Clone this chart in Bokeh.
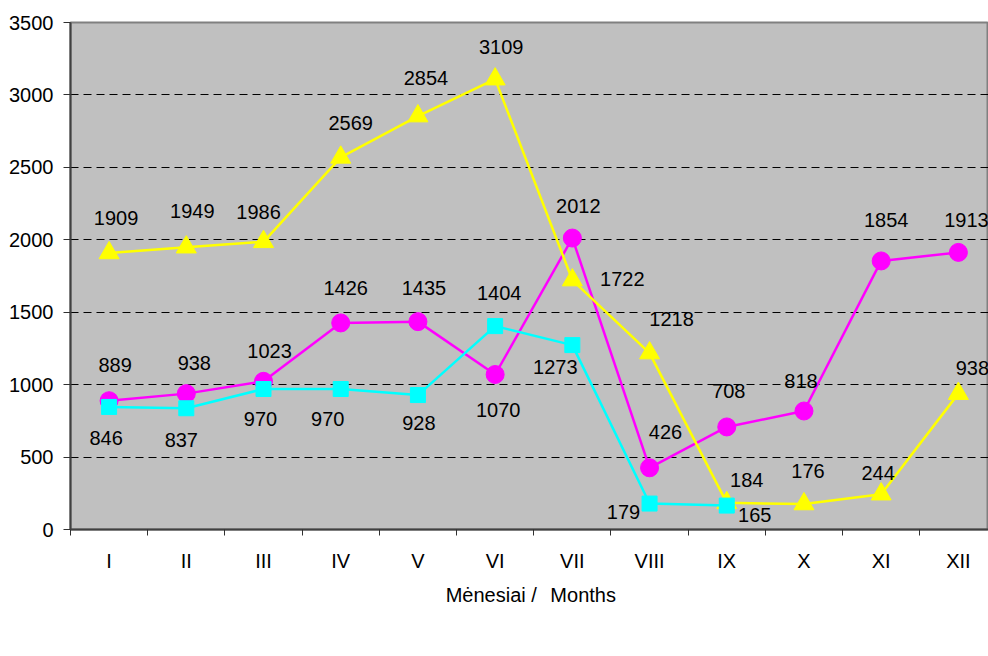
from bokeh.plotting import figure
from bokeh.models import (ColumnDataSource, Range1d, FixedTicker, Legend, LegendItem,
                          LinearAxis)
from bokeh.core.properties import value
from bokeh.embed import file_html
from bokeh.resources import INLINE

months = ["I", "II", "III", "IV", "V", "VI", "VII", "VIII", "IX", "X", "XI", "XII"]
v2007 = [889, 938, 1023, 1426, 1435, 1070, 2012, 426, 708, 818, 1854, 1913]
v2008 = [1909, 1949, 1986, 2569, 2854, 3109, 1722, 1218, 184, 176, 244, 938]
v2009 = [846, 837, 970, 970, 928, 1404, 1273, 179, 165]
y_ticks = [0, 500, 1000, 1500, 2000, 2500, 3000, 3500]

# label placement (screen px, +y is down)
off07 = [(6, -36), (8, -31), (6, -30), (5, -35), (6, -34), (3, 35), (6, -32), (16, -36),
         (2, -36), (-3, -30), (5, -41), (8, -32)]
off08 = [(7, -35), (6, -36), (-5, -30), (10, -34), (8, -38), (6, -32), (50, -1), (22, -34),
         (20, -23), (4, -33), (-3, -21), (14, -26)]
off09 = [(-3, 31), (-5, 32), (-3, 30), (-13, 30), (1, 28), (4, -33), (-17, 22), (-26, 8), (28, 9)]

FONT = "Liberation Sans"

p = figure(frame_width=918, frame_height=507, output_backend="svg", toolbar_location=None,
           x_range=Range1d(0, 11.89), y_range=Range1d(0, 3500),
           min_border_left=70, min_border_right=0, min_border_top=22, min_border_bottom=0)
p.background_fill_color = "#C0C0C0"
p.border_fill_color = "white"
p.outline_line_color = "#808080"
p.outline_line_width = 2

# axes
xa = p.xaxis[0]
xa.ticker = FixedTicker(ticks=[i + 0.5 for i in range(12)], minor_ticks=list(range(13)))
xa.major_label_overrides = {i + 0.5: m for i, m in enumerate(months)}
xa.major_tick_out = 0
xa.major_tick_in = 0
xa.minor_tick_out = 6
xa.minor_tick_in = 0
xa.minor_tick_line_color = "#303030"
xa.minor_tick_line_width = 1
xa.major_label_standoff = 14
xa.major_label_text_font = FONT
xa.major_label_text_font_size = "20px"
xa.major_label_text_color = "black"
xa.axis_line_color = "#404040"
xa.axis_line_width = 2

ya = p.yaxis[0]
ya.ticker = FixedTicker(ticks=y_ticks, minor_ticks=[])
ya.major_tick_out = 7
ya.major_tick_in = 0
ya.major_tick_line_color = "#303030"
ya.major_label_standoff = 10
ya.major_label_text_font = FONT
ya.major_label_text_font_size = "20px"
ya.major_label_text_color = "black"
ya.axis_line_color = "#404040"
ya.axis_line_width = 2

# axis title "Mėnesiai / Months" as a label-only axis row
title_pos = [5.45, 6.64]
title_txt = ["Mėnesiai /", "Months"]
tax = LinearAxis(ticker=FixedTicker(ticks=title_pos, minor_ticks=[]),
                 major_label_overrides=dict(zip(title_pos, title_txt)))
tax.axis_line_color = None
tax.major_tick_line_color = None
tax.minor_tick_line_color = None
tax.major_tick_out = 0
tax.major_tick_in = 0
tax.major_label_standoff = 9
tax.major_label_text_font = FONT
tax.major_label_text_font_size = "20px"
tax.major_label_text_color = "black"
p.add_layout(tax, "below")

p.xgrid.visible = False
p.ygrid.ticker = FixedTicker(ticks=y_ticks[1:-1])
p.ygrid.grid_line_color = "black"
p.ygrid.grid_line_dash = "8 5"
p.ygrid.grid_line_width = 1

xs = [i + 0.5 for i in range(12)]

def series(vals, color, marker, size, offs):
    x = xs[:len(vals)]
    src = ColumnDataSource(dict(x=x, y=vals, t=[str(v) for v in vals],
                                dx=[o[0] for o in offs], dy=[o[1] for o in offs]))
    lr = p.line("x", "y", source=src, line_color=color, line_width=2.5)
    sr = p.scatter("x", "y", source=src, marker=marker, size=size, fill_color=color,
                   line_color=color)
    return src, lr, sr

s07, l07, m07 = series(v2007, "#FF00FF", "circle", 18, off07)
s08, l08, m08 = series(v2008, "#FFFF00", "triangle", 20, off08)
s09, l09, m09 = series(v2009, "#00FFFF", "square", 15, off09)

for src in (s07, s08, s09):
    p.text("x", "y", text="t", source=src, x_offset="dx", y_offset="dy",
           text_align="center", text_baseline="middle", text_font=value(FONT),
           text_font_size="20px", text_color="black")

legend = Legend(items=[LegendItem(label="2007", renderers=[l07, m07]),
                       LegendItem(label="2008", renderers=[l08, m08]),
                       LegendItem(label="2009", renderers=[l09, m09])],
                orientation="horizontal", location="center")
legend.label_text_font = FONT
legend.label_text_font_size = "20px"
legend.label_text_color = "black"
legend.glyph_width = 55
legend.glyph_height = 32
legend.label_height = 20
legend.label_standoff = 5
legend.spacing = 10
legend.padding = 2
legend.margin = 16
legend.border_line_color = "black"
legend.border_line_alpha = 1
legend.border_line_width = 1
legend.background_fill_color = "white"
legend.background_fill_alpha = 1
p.add_layout(legend, "below")

open("out.html", "w").write(file_html(p, INLINE))
